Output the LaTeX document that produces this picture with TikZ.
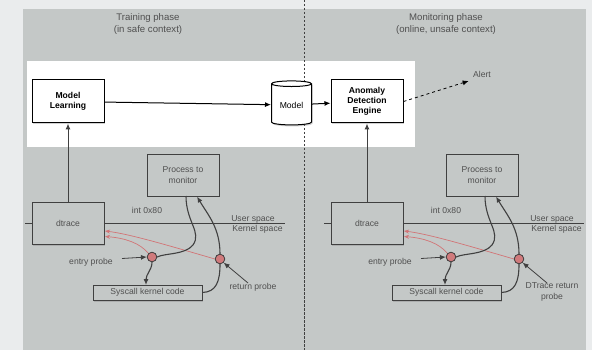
\documentclass[tikz,border=0pt]{standalone}
\usepackage{fontspec}
\setmainfont{Liberation Sans}
\usetikzlibrary{arrows.meta,shapes.geometric,shadows}
\definecolor{outerbg}{HTML}{EAECED}
\definecolor{panel}{HTML}{C4C8C7}
\definecolor{ink}{HTML}{404040}
\definecolor{txt}{HTML}{505050}
\definecolor{probefill}{HTML}{D07A7C}
\definecolor{probeline}{HTML}{D27476}

\begin{document}
\begin{tikzpicture}[x=1pt,y=-1pt,
  every node/.style={font=\fontsize{8.6}{10.5}\selectfont, text=txt},
  softshadow/.style={drop shadow={opacity=0.35, shadow xshift=1pt, shadow yshift=-1.5pt}},
  topbox/.style={draw=black, line width=1pt, fill=white, minimum width=72pt,
    minimum height=43pt, align=center, text=black,
    font=\fontsize{8.6}{10.2}\selectfont\bfseries, softshadow},
  lowbox/.style={draw=ink, line width=0.9pt, fill=panel, align=center, softshadow},
  flow/.style={draw=ink, line width=1.1pt},
  tip/.style={-{Latex[length=6pt,width=5pt]}},
  redarrow/.style={draw=probeline, line width=0.7pt, -{Stealth[length=5pt,width=4pt]}},
  probe/.style={circle, draw=ink, line width=0.7pt, fill=probefill, minimum size=9.5pt, inner sep=0pt},
  phase/.style={align=center, font=\fontsize{9.6}{11.8}\selectfont}
]
\useasboundingbox (0,0) rectangle (592,350);

% backgrounds
\fill[outerbg] (0,0) rectangle (592,350);
\fill[panel] (23,9) rectangle (586,350);
\fill[white] (27,61) rectangle (415,147);
\draw[ink, line width=0.8pt, dash pattern=on 2.5pt off 1.5pt] (304,0) -- (304,350);

% phase titles
\node[phase] (tphase) at (148,24) {Training phase\\(in safe context)};
\node[phase] (mphase) at (446,24) {Monitoring phase\\(online, unsafe context)};

% upper pipeline
\node[topbox] (ml) at (68,101.5) {Model\\Learning};
\node[cylinder, shape border rotate=90, aspect=0.22, draw=black, line width=1pt,
  fill=white, minimum width=40pt, minimum height=44pt, inner sep=1pt, text=black, softshadow] (model) at (291.5,105) {Model};
\node[topbox] (ade) at (367,101.5) {Anomaly\\Detection\\Engine};
\node (alert) at (482,74) {Alert};

\draw[black, line width=1pt, tip] (ml) -- (model);
\draw[black, line width=1pt, tip] (model) -- (ade);
\draw[black, line width=0.8pt, dashed, tip, shorten >=1pt] (ade.east) -- (alert.south west);

% kernel tracing set-up, once per phase
\foreach \dx/\s/\up in {0/L/ml, 299/R/ade}{
  \begin{scope}[xshift=\dx pt]
    \draw[ink, line width=0.9pt] (25,223) -- (285,223);
    \node[lowbox, minimum width=72pt, minimum height=42pt] (dt\s) at (68,223) {dtrace};
    \node[lowbox, minimum width=72pt, minimum height=42pt] (proc\s) at (183,175) {Process to\\monitor};
    \node[lowbox, minimum width=109pt, minimum height=15pt, inner sep=0pt] (sys\s) at (147.5,292.5) {Syscall kernel code};
    \node (int\s) at (147,210) {int 0x80};
    \node (us\s) at (253,219) {User space};
    \node (ks\s) at (257.5,229.5) {Kernel space};
    \node (ep\s) at (91,262) {entry probe};

    \node[probe] (en\s) at (152,257) {};
    \node[probe] (re\s) at (220,259) {};

    % red notifications back to dtrace
    \draw[redarrow] (en\s.north west) .. controls (140,243) and (125,238) .. (105,236.5);
    \draw[redarrow] (re\s.west) .. controls (170,246) and (130,234) .. (105,231);

    % system call round trip
    \draw[flow] (186,196) .. controls (186,222) and (202,232) .. (193,245)
                .. controls (185,255) and (165,253) .. (en\s.east);
    \draw[flow, tip] (en\s.south) .. controls (152,270) and (146,274) .. (146,285);
    \draw[flow] (sys\s.east) .. controls (216,292) and (220,282) .. (re\s.south);
    \draw[flow, tip] (re\s.north) .. controls (220,228) and (208,215) .. (197,196.5);

    \node[probe] at (en\s) {};
    \node[probe] at (re\s) {};

    % probe labels
    \coordinate (ept\s) at (122,258.5);
    \draw[ink, line width=0.8pt, tip] (ept\s) -- (en\s.west);
    \coordinate (rpt\s) at (248,283);
    \draw[ink, line width=0.8pt, tip] (rpt\s) -- (re\s.south east);

    \draw[ink, line width=1pt, tip] (dt\s.north) -- (\up.south);
  \end{scope}
}
\node (rpL) at (253,287) {return probe};
\node[align=center] (rpR) at (552,292) {DTrace return\\probe};
\end{tikzpicture}
\end{document}
